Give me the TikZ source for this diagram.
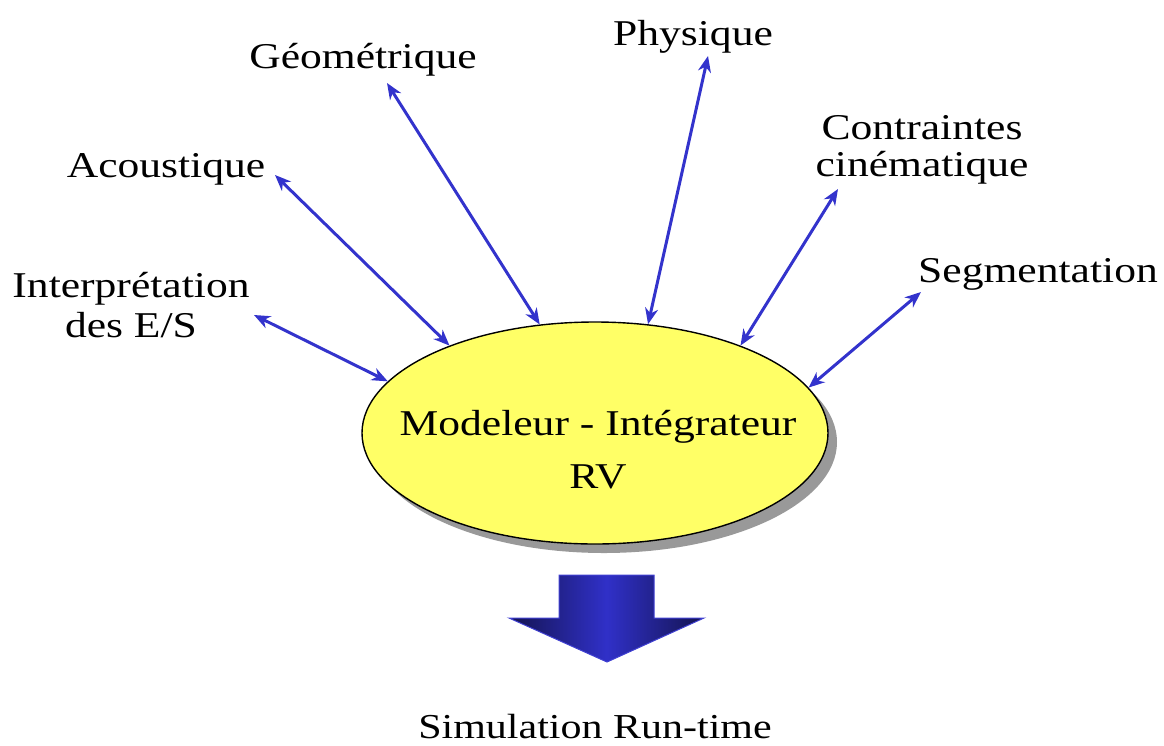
\documentclass[tikz,border=0pt]{standalone}
\usepackage{fontspec}
\setmainfont{Liberation Serif}[FakeStretch=1.2]
\usetikzlibrary{arrows.meta,shapes.geometric,shadows}
\definecolor{linkblue}{RGB}{51,51,204}
\definecolor{modfill}{RGB}{255,255,102}
\definecolor{shadowgray}{RGB}{153,153,153}
\definecolor{navydark}{RGB}{20,20,80}
\definecolor{arrowmid}{RGB}{48,48,200}
\definecolor{arrowedge}{RGB}{64,64,210}
\begin{document}
\begin{tikzpicture}[x=1pt,y=-1pt,
  lbl/.style={inner sep=0pt, anchor=base, align=center,
    font=\fontsize{36.3}{37}\selectfont},
  link/.style={draw=linkblue, line width=3pt,
    {Stealth[length=16pt,width=13pt,inset=5pt]}-{Stealth[length=16pt,width=13pt,inset=5pt]}},
  modeler/.style={ellipse, draw=black, line width=1.4pt, fill=modfill,
    minimum width=466pt, minimum height=222pt, inner sep=0pt,
    general shadow={fill=shadowgray, shadow xshift=9pt, shadow yshift=-9pt}}]
  \useasboundingbox (0,0) rectangle (1164,745);

  % central modeler ellipse and its caption (base = last line)
  \node[modeler] (mod) at (595,433) {};
  \node[lbl] (modtxt) at (598,488) {Modeleur - Intégrateur\\[16pt]RV};

  % surrounding modules
  \node[lbl] (interp) at (131,337) {Interprétation\\[3pt]des E/S};
  \node[lbl] (acou) at (166,177) {Acoustique};
  \node[lbl] (geom) at (363,68) {Géométrique};
  \node[lbl] (phys) at (693,45) {Physique};
  \node[lbl] (cine) at (922,176) {Contraintes\\cinématique};
  \node[lbl] (seg) at (1038,282) {Segmentation};
  \node[lbl, font=\fontsize{35}{37}\selectfont] (sim) at (595,738) {Simulation Run-time};

  % outer ends of the links
  \coordinate (interpEnd) at (254,315);
  \coordinate (acouEnd) at (275,175);
  \coordinate (geomEnd) at (387,83);
  \coordinate (physEnd) at (708,56);
  \coordinate (cineEnd) at (838,189);
  \coordinate (segEnd) at (921,292);

  % two-way links between the modules and the modeler
  \draw[link] (interpEnd) -- (mod.166);
  \draw[link] (acouEnd) -- (mod.149.4);
  \draw[link] (geomEnd) -- (mod.117.4);
  \draw[link] (physEnd) -- (mod.64.1);
  \draw[link] (cineEnd) -- (mod.31.7);
  \draw[link] (segEnd) -- (mod.12.1);

  % block arrow towards the run-time simulation
  \path[draw=arrowedge, line width=1pt, left color=navydark, right color=navydark,
        middle color=arrowmid]
    (559,575) -- (654,575) -- (654,618) -- (704,618) -- (607,662)
    -- (509,618) -- (559,618) -- cycle;
\end{tikzpicture}
\end{document}
